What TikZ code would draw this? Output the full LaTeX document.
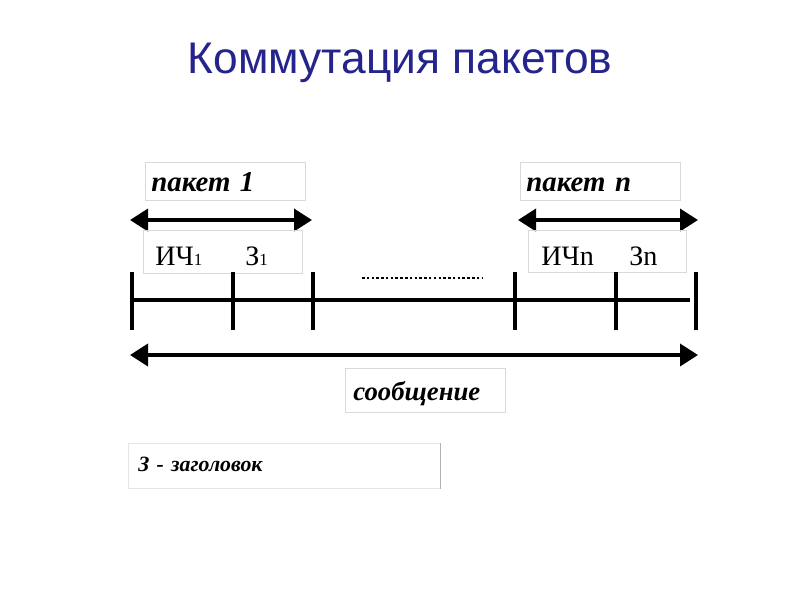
\documentclass[tikz,border=0pt]{standalone}
\usepackage{fontspec}
\setmainfont{Liberation Serif}
\newfontfamily\titlefont{Liberation Sans}
\usetikzlibrary{positioning,arrows.meta,calc}
\definecolor{titleblue}{RGB}{36,36,140}
\newcommand{\smallone}{{\fontsize{12}{12}\selectfont 1}}

\begin{document}
\begin{tikzpicture}[x=0.025cm,y=-0.025cm]
  \tikzstyle{lbl}=[draw=gray!30,line width=0.5pt,inner xsep=0.15cm,inner ysep=0pt,text height=16pt,text depth=2pt,anchor=north west,align=left,font=\bfseries\itshape\fontsize{20.5}{24}\selectfont]
  \tikzstyle{hdr}=[anchor=west,inner sep=0pt,font=\fontsize{20}{22}\selectfont]
  \tikzstyle{span}=[line width=2.6pt,{Triangle[length=0.45cm,width=0.55cm]}-{Triangle[length=0.45cm,width=0.55cm]}]
  \tikzstyle{tick}=[line width=2.5pt]
  \useasboundingbox[fill=white] (0,0) rectangle (800,600);
  % title
  \node[font=\titlefont\fontsize{31.5}{36}\selectfont,text=titleblue] (title) at (400,63) {Коммутация пакетов};
  % packet labels
  \node[lbl,text width=3.7cm,minimum height=0.95cm] (pk1) at (145,162) {пакет 1};
  \node[lbl,text width=3.7cm,minimum height=0.95cm] (pkn) at (520,162) {пакет n};
  \coordinate (a1l) at (130,220); \coordinate (a1r) at (312,220);
  \coordinate (anl) at (518,220); \coordinate (anr) at (698,220);
  \draw[span] (a1l) -- (a1r);
  \draw[span] (anl) -- (anr);
  % header boxes
  \node[lbl,minimum width=3.975cm,minimum height=1.075cm] (hd1) at (143,230) {};
  \node[hdr] (ich1) at (155,256) {ИЧ\smallone};
  \node[hdr] (z1) at (245,256) {З\smallone};
  \node[lbl,minimum width=3.95cm,minimum height=1.05cm] (hdn) at (528,230) {};
  \node[hdr] (ichn) at (541,256) {ИЧn};
  \node[hdr] (zn) at (629,256) {Зn};
  % dotted gap
  \coordinate (dl) at (362,278); \coordinate (dr) at (483,278);
  \draw[line width=1.8pt,dash pattern=on 1.8pt off 1.6pt] (dl) -- (dr);
  % main line with ticks
  \coordinate (ml) at (132,300); \coordinate (mr) at (690,300);
  \draw[line width=2.5pt] (ml) -- (mr);
  \foreach \x/\n in {132/t0,233/t1,313/t2,515/t3,616/t4,696/t5}{
    \coordinate (\n a) at (\x,272); \coordinate (\n b) at (\x,330);
    \draw[tick] (\n a) -- (\n b);
  }
  % message
  \coordinate (mgl) at (130,355); \coordinate (mgr) at (698,355);
  \draw[span] (mgl) -- (mgr);
  \node[lbl,text width=3.6cm,minimum height=1.1cm,inner xsep=0.2cm,font=\bfseries\itshape\fontsize{19}{22}\selectfont] (msg) at (345,368) {сообщение};
  % legend
  \node[lbl,draw=gray!20,text width=7.3cm,minimum height=1.125cm,inner xsep=0.25cm,text height=11pt,text depth=3pt,font=\bfseries\itshape\fontsize{15.5}{18}\selectfont] (leg) at (128,443) {З - заголовок};
  \draw[gray!60,line width=0.6pt] (leg.north east) -- (leg.south east);
\end{tikzpicture}
\end{document}
